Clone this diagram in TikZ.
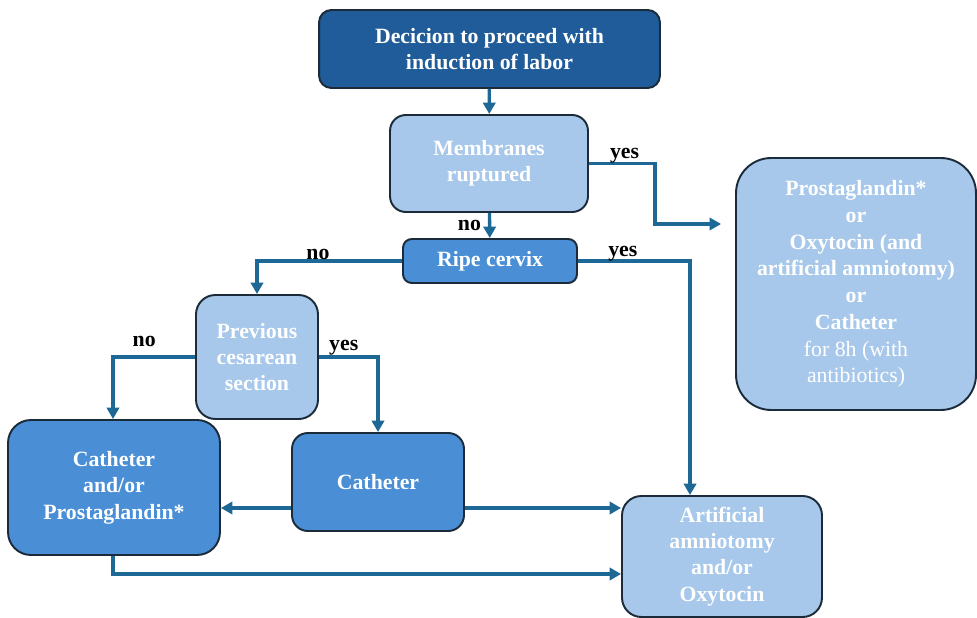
\documentclass[tikz,border=0pt]{standalone}
\usepackage{fontspec}
\setmainfont{Liberation Serif}
\usepackage{tikz}
\usetikzlibrary{arrows.meta,positioning}

\definecolor{darkbox}{HTML}{1F5C99}
\definecolor{midbox}{HTML}{4A8FD6}
\definecolor{lightbox}{HTML}{A7C8EA}
\definecolor{linecol}{HTML}{1D6894}
\definecolor{edgecol}{HTML}{1C2B3A}

\tikzset{
    box/.style={draw=edgecol, line width=1.1pt, align=center, text=white,
        font=\fontsize{12.4}{15}\selectfont\bfseries, inner sep=2pt},
    flow/.style={->, draw=linecol, line width=1.9pt},
    answer/.style={font=\fontsize{12.4}{15}\selectfont\bfseries, text=black, inner sep=1pt}
}

\begin{document}
\begin{tikzpicture}[>={Triangle[length=6.5pt,width=7pt]}, x=0.02cm, y=-0.02cm]
    \useasboundingbox (0,0) rectangle (977,618);
    % Induction of labor decision flow
    \node (start) at (489.5,49) [box, fill=darkbox, rounded corners=7pt, minimum width=6.82cm, minimum height=1.56cm] {Decicion to proceed with\\induction of labor};
    \node (memb) at (489,163.5) [box, fill=lightbox, rounded corners=9pt, minimum width=3.96cm, minimum height=1.94cm] {Membranes\\ruptured};
    \node (ripe) at (490,261) [box, fill=midbox, rounded corners=5pt, minimum width=3.48cm, minimum height=0.88cm] {Ripe cervix};
    \node (ruptured) at (856,284) [box, fill=lightbox, rounded corners=20pt, minimum width=4.8cm, minimum height=5.04cm, font=\fontsize{12.4}{15.2}\selectfont\bfseries] {Prostaglandin*\\or\\Oxytocin (and\\artificial amniotomy)\\or\\Catheter\\\mdseries for 8h (with\\\mdseries antibiotics)};
    \node (prev) at (257,357) [box, fill=lightbox, rounded corners=11pt, minimum width=2.44cm, minimum height=2.48cm] {Previous\\cesarean\\section};
    \node (mixed) at (114,487.5) [box, fill=midbox, rounded corners=13pt, minimum width=4.24cm, minimum height=2.7cm] {Catheter\\and/or\\Prostaglandin*};
    \node (cath) at (378,482) [box, fill=midbox, rounded corners=9pt, minimum width=3.44cm, minimum height=1.96cm] {Catheter};
    \node (amnio) at (722,556.5) [box, fill=lightbox, rounded corners=11pt, minimum width=4cm, minimum height=2.42cm] {Artificial\\amniotomy\\and/or\\Oxytocin};

    \draw [flow] (start) -- (memb);
    \draw [flow] (memb) -- (ripe) node [answer, midway, left=3pt] {no};
    \draw [flow, shorten >=8pt] (memb.east) -| node [answer, pos=0.27, above=-2pt] {yes} (655,224) -- (ruptured.west |- 655,224);
    \draw [flow] (ripe.east) -| (amnio.north -| 690,0) node [answer, pos=0.2, above=-2pt] {yes};
    \draw [flow] (ripe.west) -| (prev.north) node [answer, pos=0.29, above=-1pt] {no};
    \draw [flow] (prev.west) -| (mixed.north -| 113,0) node [answer, pos=0.31, above=4pt] {no};
    \draw [flow] (prev.east) -| (cath.north) node [answer, pos=0.21, above=-1pt] {yes};
    \draw [flow] (cath.west |- 0,508) -- (mixed.east |- 0,508);
    \draw [flow] (cath.east |- 0,508) -- (amnio.west |- 0,508);
    \draw [flow] (mixed.south -| 113,0) |- (amnio.west |- 0,574);
\end{tikzpicture}
\end{document}
